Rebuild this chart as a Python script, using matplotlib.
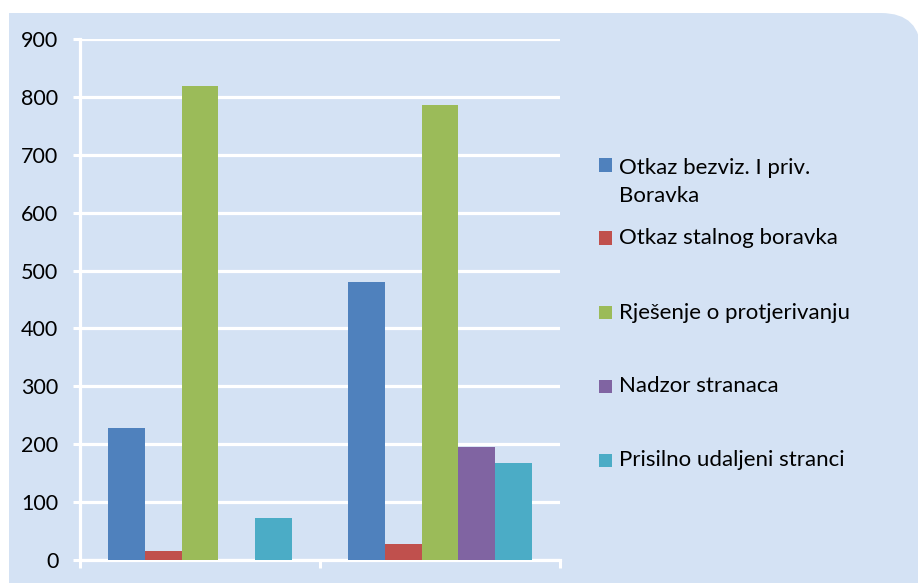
import matplotlib
matplotlib.use("Agg")
import matplotlib.pyplot as plt
import numpy as np
from matplotlib.patches import FancyBboxPatch, Rectangle

categories = ["", ""]
series_names = ["Otkaz bezviz. I priv.\nBoravka", "Otkaz stalnog boravka",
                "Rješenje o protjerivanju", "Nadzor stranaca",
                "Prisilno udaljeni stranci"]
otkaz_bezviz = [228, 481]
otkaz_stalnog = [16, 28]
rjesenje = [819, 786]
nadzor = [0, 196]
prisilno = [73, 168]
values = [otkaz_bezviz, otkaz_stalnog, rjesenje, nadzor, prisilno]
colors = ["#4F81BD", "#C0504D", "#9BBB59", "#8064A2", "#4BACC6"]
yticks = [0, 100, 200, 300, 400, 500, 600, 700, 800, 900]

W, H = 918, 583
bg = "#D4E2F4"
plt.rcParams['font.family'] = ['Lato', 'DejaVu Sans']

fig = plt.figure(figsize=(W/100, H/100), dpi=100)
fig.patch.set_facecolor("white")

r = 40
panel = FancyBboxPatch((9/W, -0.2), (W + 3 - 9)/W, (H - 13)/H + 0.2,
                       boxstyle=f"round,pad=0,rounding_size={r/W}",
                       transform=fig.transFigure, facecolor=bg, edgecolor="none",
                       mutation_aspect=W/H, zorder=-10)
fig.patches.append(panel)
fig.patches.append(Rectangle((9/W, 1 - 80/H), 60/W, (80 - 13)/H,
                             transform=fig.transFigure, facecolor=bg, edgecolor="none",
                             zorder=-10))

y0_px, y900_px = 560, 39
ax = fig.add_axes([80/W, (H - y0_px)/H, (560 - 80)/W, (y0_px - y900_px)/H])
ax.set_facecolor("none")

n = len(values)
x = np.arange(len(categories))
group_w = 0.764
bw = group_w / n
for i, (vals, c) in enumerate(zip(values, colors)):
    ax.bar(x - group_w/2 + bw*(i + 0.5), vals, width=bw, color=c, zorder=3,
           edgecolor="none")

ax.set_xlim(-0.5, len(categories) - 0.5)
ax.set_ylim(0, 900)
ax.set_yticks(yticks)
ax.set_yticklabels([str(v) for v in yticks], fontsize=15.5, color="black")
ax.set_xticks(np.arange(len(categories) + 1) - 0.5)
ax.set_xticklabels([])
ax.tick_params(axis="y", length=5, width=2.2, color="white", pad=10.5)
ax.tick_params(axis="x", length=6, width=2.2, color="white")
ax.grid(axis="y", color="white", linewidth=2.3, zorder=0)
ax.set_axisbelow(True)
for s in ["top", "right"]:
    ax.spines[s].set_visible(False)
for s in ["left", "bottom"]:
    ax.spines[s].set_color("white")
    ax.spines[s].set_linewidth(2.3)
for lbl in ax.get_yticklabels():
    lbl.set_y(lbl.get_position()[1])

# legend
sq_y = [165, 238, 313, 386, 460]
text_y = [181.5, 238, 313, 386, 460]
for name, c, sy, ty in zip(series_names, colors, sq_y, text_y):
    fig.patches.append(Rectangle(((599)/W, 1 - (sy + 6.5)/H), 13/W, 13/H,
                                 transform=fig.transFigure, facecolor=c, edgecolor="none"))
    fig.text(619/W, 1 - ty/H, name, fontsize=16, va="center", ha="left",
             linespacing=1.5, color="black")

fig.savefig("out.png", dpi=100, facecolor=fig.get_facecolor())
